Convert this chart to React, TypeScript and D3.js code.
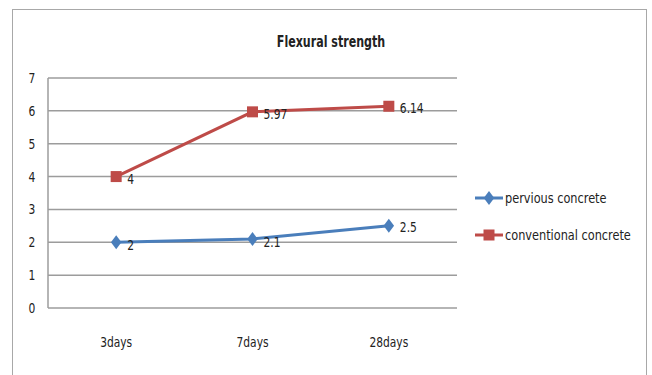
import React from "react";
import * as d3 from "d3";

const categories = ["3days", "7days", "28days"];
const pervious = [2, 2.1, 2.5];
const conventional = [4, 5.97, 6.14];
const yTicks = [0, 1, 2, 3, 4, 5, 6, 7];
const seriesNames = ["pervious concrete", "conventional concrete"];

const W = 652;
const H = 375;
const FONT = "'DejaVu Sans Condensed', 'Liberation Sans Narrow', Arial, sans-serif";
const BLUE = "#4a7ebb";
const RED = "#be4b48";
const INK = "#222";

// Text squeezed horizontally to give a narrow, tall face
function Narrow(props: {
  x: number;
  y: number;
  sx?: number;
  size: number;
  anchor?: "start" | "middle" | "end";
  bold?: boolean;
  children: React.ReactNode;
}) {
  const { x, y, sx = 0.85, size, anchor = "start", bold, children } = props;
  return (
    <text
      transform={`translate(${x},${y}) scale(${sx},1)`}
      textAnchor={anchor}
      fontSize={size}
      fontWeight={bold ? "bold" : "normal"}
      fill={INK}
    >
      {children}
    </text>
  );
}

export default function App() {
  const x = d3.scaleBand<string>().domain(categories).range([48, 457]);
  const y = d3.scaleLinear().domain([0, 7]).range([308, 78]);
  const cx = (c: string) => (x(c) ?? 0) + x.bandwidth() / 2;
  const line = d3
    .line<number>()
    .x((_, i) => cx(categories[i]))
    .y((d) => y(d));

  const diamond = (px: number, py: number, r: number) =>
    `M${px},${py - r}L${px + r * 0.75},${py}L${px},${py + r}L${px - r * 0.75},${py}Z`;

  return (
    <svg
      width={W}
      height={H}
      style={{ position: "absolute", left: 0, top: 0, display: "block", background: "#fff" }}
      fontFamily={FONT}
    >
      <rect x={12.5} y={9.5} width={634} height={380} fill="#fff" stroke="#a8a8a8" strokeWidth={1} />
      <Narrow x={331} y={47} size={16} sx={0.77} anchor="middle" bold>
        Flexural strength
      </Narrow>

      {yTicks.map((t) => (
        <g key={t}>
          <line x1={48} x2={457} y1={y(t)} y2={y(t)} stroke="#9c9c9c" strokeWidth={1.5} />
          <Narrow x={32} y={y(t) + 5} size={14} anchor="middle">
            {t}
          </Narrow>
        </g>
      ))}
      <line x1={48} x2={48} y1={y(7)} y2={y(0)} stroke="#9c9c9c" strokeWidth={1.5} />

      {categories.map((c) => (
        <Narrow key={c} x={cx(c)} y={347} size={14} anchor="middle">
          {c}
        </Narrow>
      ))}

      <path d={line(conventional) ?? ""} fill="none" stroke={RED} strokeWidth={3} />
      <path d={line(pervious) ?? ""} fill="none" stroke={BLUE} strokeWidth={3} />

      {conventional.map((v, i) => (
        <g key={"c" + i}>
          <rect x={cx(categories[i]) - 5.5} y={y(v) - 5.5} width={11} height={11} fill={RED} />
          <Narrow x={cx(categories[i]) + 11} y={y(v) + 7} size={14}>
            {v}
          </Narrow>
        </g>
      ))}
      {pervious.map((v, i) => (
        <g key={"p" + i}>
          <path d={diamond(cx(categories[i]), y(v), 7)} fill={BLUE} />
          <Narrow x={cx(categories[i]) + 11} y={y(v) + (i === 2 ? 6 : 8)} size={14}>
            {v}
          </Narrow>
        </g>
      ))}

      {/* legend */}
      <g>
        <line x1={475} x2={503} y1={198} y2={198} stroke={BLUE} strokeWidth={3} />
        <path d={diamond(489, 198, 7)} fill={BLUE} />
        <Narrow x={505} y={203} size={14} sx={0.9}>
          {seriesNames[0]}
        </Narrow>
        <line x1={475} x2={503} y1={235} y2={235} stroke={RED} strokeWidth={3} />
        <rect x={483.5} y={229.5} width={11} height={11} fill={RED} />
        <Narrow x={505} y={240} size={14} sx={0.9}>
          {seriesNames[1]}
        </Narrow>
      </g>
    </svg>
  );
}
